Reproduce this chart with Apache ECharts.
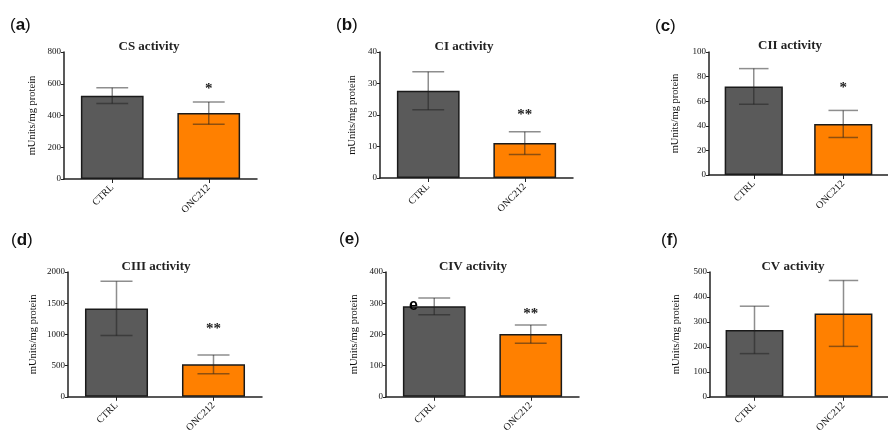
<!DOCTYPE html>
<html>
<head>
<meta charset="utf-8">
<script src="https://cdn.jsdelivr.net/npm/echarts@6/dist/echarts.min.js"></script>
<style>
html,body{margin:0;padding:0;background:#fff;}
#chart{width:888px;height:435px;}
</style>
</head>
<body>
<div id="chart"></div>
<script>
// ---- data ----
const categories = ['CTRL', 'ONC212'];
const panelLetters = ['a', 'b', 'c', 'd', 'e', 'f'];
const panelTitles = ['CS activity', 'CI activity', 'CII activity', 'CIII activity', 'CIV activity', 'CV activity'];
const yAxisName = 'mUnits/mg protein';

const csMean = [525, 415];     const csErr = [50, 70];
const ciMean = [27.7, 11.1];   const ciErr = [6, 3.6];
const ciiMean = [72, 41.5];    const ciiErr = [14.5, 11];
const ciiiMean = [1416, 521];  const ciiiErr = [435, 150];
const civMean = [290, 201];    const civErr = [27, 29];
const cvMean = [268, 334];     const cvErr = [95, 132];

const yMax = [800, 40, 100, 2000, 400, 500];
const yStep = [200, 10, 20, 500, 100, 100];

// significance marks (label, value level where the mark sits)
const sigLabels = [['', '*'], ['', '**'], ['', '*'], ['', '**'], ['', '**'], ['', '']];
const sigLevels = [[0, 586], [0, 21], [0, 73.3], [0, 1129], [0, 275], [0, 0]];

const means = [csMean, ciMean, ciiMean, ciiiMean, civMean, cvMean];
const errs = [csErr, ciErr, ciiErr, ciiiErr, civErr, cvErr];

// ---- layout / style ----
const grids = [
  {left: 64, top: 52, width: 193, height: 127},
  {left: 380, top: 52, width: 193, height: 126},
  {left: 709, top: 52, width: 188, height: 123},
  {left: 68, top: 272, width: 194, height: 127},
  {left: 386, top: 272, width: 193, height: 127},
  {left: 710, top: 272, width: 189, height: 127}
];
const nameGaps = [26, 22, 28, 29, 26, 28];
const titlePos = [[149, 40], [464, 40], [790, 39], [156, 260], [473, 260], [793, 260]];
const letterPos = [[10, 17], [336, 17], [655, 18], [11, 232], [339, 231], [661, 232]];
const barColors = ['#5a5a5a', '#ff8000'];
const serif = '"Liberation Serif", "DejaVu Serif", serif';

const chart = echarts.init(document.getElementById('chart'), null, {renderer: 'canvas'});

const xAxes = [], yAxes = [], series = [], titles = [], graphics = [];
grids.forEach((g, i) => {
  xAxes.push({
    type: 'category', gridIndex: i, data: categories,
    axisLine: {show: true, lineStyle: {color: '#222', width: 1.5}},
    axisTick: {show: true, alignWithLabel: true, length: 4, lineStyle: {color: '#222', width: 1}},
    axisLabel: {rotate: 45, interval: 0, margin: 7, fontSize: 10, fontFamily: serif, color: '#111',
      overflow: 'none', width: 200, hideOverlap: false},
    splitLine: {show: false}
  });
  yAxes.push({
    type: 'value', gridIndex: i, min: 0, max: yMax[i], interval: yStep[i],
    name: yAxisName, nameLocation: 'middle', nameRotate: 90, nameGap: nameGaps[i],
    nameTextStyle: {fontSize: 10.5, fontFamily: serif, color: '#111'},
    axisLine: {show: true, lineStyle: {color: '#222', width: 1.5}},
    axisTick: {show: true, length: 3, lineStyle: {color: '#222', width: 1}},
    axisLabel: {margin: 3, fontSize: 9, fontFamily: serif, color: '#111',
      formatter: v => String(v)},
    splitLine: {show: false}
  });
  series.push({
    type: 'bar', xAxisIndex: i, yAxisIndex: i, barWidth: '65%',
    data: means[i].map((v, k) => ({value: v, itemStyle: {color: barColors[k]}})),
    itemStyle: {borderColor: '#1a1a1a', borderWidth: 1.5},
    animation: false
  });
  series.push({
    type: 'custom', xAxisIndex: i, yAxisIndex: i, z: 5,
    data: means[i].map((v, k) => [k, v, errs[i][k]]),
    renderItem: (params, api) => {
      const x = api.value(0), m = api.value(1), e = api.value(2);
      const top = api.coord([x, m + e]);
      const bot = api.coord([x, m - e]);
      const half = api.size([1, 0])[0] * 0.165;
      const ls = {stroke: 'rgba(30,30,30,0.5)', lineWidth: 1.5};
      const children = [
        {type: 'line', shape: {x1: top[0], y1: top[1], x2: bot[0], y2: bot[1]}, style: ls},
        {type: 'line', shape: {x1: top[0] - half, y1: top[1], x2: top[0] + half, y2: top[1]}, style: ls},
        {type: 'line', shape: {x1: bot[0] - half, y1: bot[1], x2: bot[0] + half, y2: bot[1]}, style: ls}
      ];
      const lab = sigLabels[i][params.dataIndex];
      if (lab) {
        const p = api.coord([x, sigLevels[i][params.dataIndex]]);
        children.push({type: 'text', x: p[0], y: p[1] + 3, style: {
          text: lab, fill: '#222', font: 'bold 15px ' + serif,
          align: 'center', verticalAlign: 'middle'}});
      }
      return {type: 'group', children};
    },
    animation: false
  });
  titles.push({
    text: panelTitles[i], left: titlePos[i][0], top: titlePos[i][1], textAlign: 'center', padding: 0,
    textStyle: {fontSize: 13, fontWeight: 'bold', fontFamily: serif, color: '#222'}
  });
  graphics.push({
    type: 'text', left: letterPos[i][0], top: letterPos[i][1],
    style: {
      text: '{p|(}{b|' + panelLetters[i] + '}{p|)}',
      rich: {
        p: {font: '17px "Liberation Sans", Arial, sans-serif', fill: '#111'},
        b: {font: 'bold 17px "Liberation Sans", Arial, sans-serif', fill: '#111'}
      }
    }
  });
});

// stray letter inside panel (e)
graphics.push({
  type: 'text', left: 409, top: 298, z: 100,
  style: {text: 'e', font: 'bold 16px "Liberation Sans", Arial, sans-serif', fill: '#000'}
});

chart.setOption({
  backgroundColor: '#fff',
  animation: false,
  title: titles,
  grid: grids,
  xAxis: xAxes,
  yAxis: yAxes,
  series: series,
  graphic: graphics
});
</script>
</body>
</html>
